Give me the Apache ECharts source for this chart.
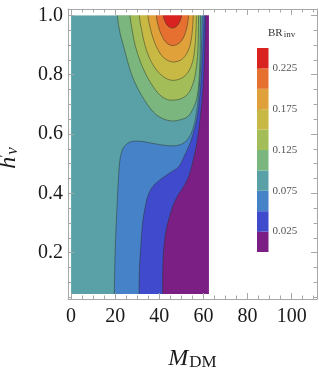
<!DOCTYPE html>
<html><head><meta charset="utf-8">
<script src="https://cdn.jsdelivr.net/npm/echarts@6/dist/echarts.min.js"></script>
<style>html,body{margin:0;padding:0;background:#fff}#c{width:319px;height:374px}</style>
</head><body><div id="c"></div>
<script>
// ---- axis ticks ----
const xTicks = [0, 20, 40, 60, 80, 100];
const xMinor = [0,5,10,15,20,25,30,35,40,45,50,55,60,65,70,75,80,85,90,95,100,105,110];
const yTicks = [0.2, 0.4, 0.6, 0.8, 1.0];
const yMinor = [0.05,0.1,0.15,0.2,0.25,0.3,0.35,0.4,0.45,0.5,0.55,0.6,0.65,0.7,0.75,0.8,0.85,0.9,0.95,1.0];
// ---- colour levels (BR_inv) ----
const levelBounds = [0, 0.025, 0.05, 0.075, 0.1, 0.125, 0.15, 0.175, 0.2, 0.225, 0.25];
const levelColors = ['#7B1F84','#404ACC','#4682C8','#59A1A6','#7AB67E','#A3BD59','#C8B945','#E0A03A','#E67030','#D92321'];
const barTicks = [0.025, 0.075, 0.125, 0.175, 0.225];
// ---- data domain ----
const domainM = [0, 62.5];
const domainH = [0.061, 1.0];
// ---- contour lines [M_DM, h'_nu] ----
const c0025 = [[41.5,0.061],[41.6,0.15],[42.1,0.22],[43.2,0.28],[44.6,0.32],[46.3,0.36],[48.6,0.395],[51.2,0.425],[53.5,0.46],[55.3,0.51],[56.8,0.56],[58.0,0.62],[59.2,0.70],[60.1,0.79],[60.6,0.88],[61.0,1.0]];
const c0050 = [[30.8,0.061],[31.0,0.15],[31.6,0.22],[32.4,0.30],[33.5,0.35],[35.0,0.395],[37.3,0.425],[41.1,0.45],[45.6,0.473],[48.8,0.49],[51.3,0.525],[53.9,0.568],[55.9,0.615],[57.3,0.66],[58.4,0.73],[59.3,0.82],[59.9,0.91],[60.3,1.0]];
const c0075 = [[19.6,0.061],[19.8,0.15],[20.2,0.25],[20.8,0.35],[21.4,0.44],[22.2,0.515],[23.7,0.553],[26.5,0.572],[30.5,0.576],[36.6,0.569],[43.4,0.561],[48.6,0.562],[52.4,0.578],[55.0,0.612],[56.6,0.66],[57.8,0.73],[58.7,0.82],[59.2,0.91],[59.5,1.0]];
const c0100 = [[21.0,1.0],[22.2,0.94],[23.7,0.899],[25.8,0.84],[28.2,0.786],[32.0,0.730],[37.3,0.674],[41.5,0.652],[45.6,0.644],[49.5,0.648],[53.1,0.660],[55.6,0.69],[57.0,0.72],[57.9,0.77],[58.4,0.84],[58.6,0.92],[58.7,1.0]];
const c0125 = [[26.7,1.0],[27.7,0.95],[29.0,0.9],[31.6,0.84],[35.0,0.786],[39.4,0.738],[43.0,0.718],[45.6,0.714],[49.5,0.718],[52.7,0.733],[54.8,0.76],[56.3,0.80],[57.3,0.86],[57.7,0.93],[57.8,1.0]];
const c0150 = [[30.9,1.0],[32.0,0.95],[33.5,0.899],[35.6,0.855],[38.5,0.818],[42.0,0.792],[45.6,0.781],[49.5,0.786],[52.4,0.802],[54.5,0.83],[55.8,0.87],[56.5,0.93],[56.8,1.0]];
const c0175 = [[34.8,1.0],[35.8,0.96],[37.3,0.92],[39.3,0.885],[42.0,0.857],[45.7,0.843],[49.4,0.848],[52.0,0.866],[53.8,0.895],[54.8,0.935],[55.2,0.97],[55.4,1.0]];
const c0200 = [[38.6,1.0],[39.6,0.962],[41.2,0.93],[43.3,0.907],[45.8,0.898],[48.4,0.903],[50.6,0.92],[52.2,0.95],[53.0,0.98],[53.3,1.0]];
const c0225 = [[41.8,1.0],[42.8,0.976],[44.2,0.962],[46.0,0.957],[47.7,0.962],[49.1,0.976],[50.1,1.0]];

// regions: 'low' = area to the right of the contour, 'cap' = area above it
const regions = [
  {pts: null, kind: 'base', level: 3},
  {pts: c0075, kind: 'low', level: 2},
  {pts: c0050, kind: 'low', level: 1},
  {pts: c0025, kind: 'low', level: 0},
  {pts: c0100, kind: 'cap', level: 4},
  {pts: c0125, kind: 'cap', level: 5},
  {pts: c0150, kind: 'cap', level: 6},
  {pts: c0175, kind: 'cap', level: 7},
  {pts: c0200, kind: 'cap', level: 8},
  {pts: c0225, kind: 'cap', level: 9}
];

const X_MIN = -1.4, X_MAX = 111.5, Y_MIN = 0.0439, Y_MAX = 1.0212;
const FRAME = '#a8a8a8';
const SERIF = 'Liberation Serif';
const TOP_OUT = 1.08, BOT_OUT = 0.0, RIGHT_OUT = 64.5;

function regionItem(params, api) {
  const r = regions[params.dataIndex];
  const col = levelColors[r.level];
  if (r.kind === 'base') {
    const p0 = api.coord([domainM[0], domainH[1]]);
    const p1 = api.coord([domainM[1], domainH[0]]);
    return {type: 'rect', shape: {x: p0[0], y: p0[1], width: p1[0]-p0[0], height: p1[1]-p0[1]}, style: {fill: col}};
  }
  let pts = r.pts.slice();
  if (r.kind === 'low') {
    pts = [[pts[0][0], BOT_OUT]].concat(pts, [[pts[pts.length-1][0], TOP_OUT], [RIGHT_OUT, TOP_OUT], [RIGHT_OUT, BOT_OUT]]);
  } else {
    pts = pts.concat([[pts[pts.length-1][0], TOP_OUT], [pts[0][0], TOP_OUT]]);
  }
  return {
    type: 'polygon',
    shape: {points: pts.map(p => api.coord(p)), smooth: 0.35},
    style: {fill: col, stroke: 'rgba(45,50,40,0.55)', lineWidth: 0.9}
  };
}

// white masks outside the data domain (inside the frame padding)
const masks = [
  [X_MIN - 2, domainH[1], 80, 1.3],
  [domainM[1], -0.2, 80, 1.3],
  [X_MIN - 2, -0.2, 80, domainH[0]]
];
function maskItem(params, api) {
  const m = masks[params.dataIndex];
  const p0 = api.coord([m[0], m[3]]);
  const p1 = api.coord([m[2], m[1]]);
  return {type: 'rect', shape: {x: p0[0], y: p0[1], width: p1[0]-p0[0], height: p1[1]-p0[1]}, style: {fill: '#ffffff'}};
}
function barItem(params, api) {
  const i = params.dataIndex;
  const p0 = api.coord([0, levelBounds[i+1]]);
  const p1 = api.coord([1, levelBounds[i]]);
  return {type: 'rect', shape: {x: p0[0], y: p0[1], width: p1[0]-p0[0], height: p1[1]-p0[1]}, style: {fill: levelColors[i]}};
}

function xAx(pos, ticks, len, line, labels) {
  return {
    gridIndex: 0, type: 'value', position: pos, min: X_MIN, max: X_MAX, z: 10,
    axisLine: {show: line, onZero: false, lineStyle: {color: FRAME, width: 1}},
    axisTick: {show: true, inside: true, length: len, customValues: ticks, lineStyle: {color: FRAME, width: 1}},
    splitLine: {show: false},
    axisLabel: labels ? {customValues: xTicks, fontFamily: SERIF, fontSize: 20, color: '#1a1a1a', margin: 8} : {show: false}
  };
}
function yAx(pos, ticks, len, line, labels) {
  return {
    gridIndex: 0, type: 'value', position: pos, min: Y_MIN, max: Y_MAX, z: 10,
    axisLine: {show: line, onZero: false, lineStyle: {color: FRAME, width: 1}},
    axisTick: {show: true, inside: true, length: len, customValues: ticks, lineStyle: {color: FRAME, width: 1}},
    splitLine: {show: false},
    axisLabel: labels ? {customValues: yTicks, formatter: v => v.toFixed(1), fontFamily: SERIF, fontSize: 20, color: '#1a1a1a', margin: 5} : {show: false}
  };
}

const xAxes = [xAx('bottom', xTicks, 6, true, true), xAx('bottom', xMinor, 3.5, false, false), xAx('top', xTicks, 6, true, false), xAx('top', xMinor, 3.5, false, false)];
xAxes[0].name = '{m|M}{s|DM}';
xAxes[0].nameLocation = 'middle';
xAxes[0].nameGap = 48;
xAxes[0].nameTextStyle = {rich: {
  m: {fontFamily: SERIF, fontStyle: 'italic', fontSize: 24, color: '#1a1a1a', verticalAlign: 'top'},
  s: {fontFamily: SERIF, fontSize: 17, color: '#1a1a1a', verticalAlign: 'bottom', padding: [0,0,0,1]}
}};
xAxes.push({gridIndex: 1, type: 'value', min: 0, max: 1, show: false});

const yAxes = [yAx('left', yTicks, 6, true, true), yAx('left', yMinor, 3.5, false, false), yAx('right', yTicks, 6, true, false), yAx('right', yMinor, 3.5, false, false)];
yAxes[0].name = '{h|h}{p|\u2032}{s|\u03bd}';
yAxes[0].nameLocation = 'middle';
yAxes[0].nameRotate = 90;
yAxes[0].nameGap = 47;
yAxes[0].nameTextStyle = {rich: {
  h: {fontFamily: SERIF, fontStyle: 'italic', fontSize: 24, color: '#1a1a1a'},
  p: {fontFamily: SERIF, fontSize: 18, color: '#1a1a1a', verticalAlign: 'top', width: 2},
  s: {fontFamily: SERIF, fontStyle: 'italic', fontSize: 17, color: '#1a1a1a', verticalAlign: 'bottom', padding: [0,8,0,0]}
}};
yAxes.push({
  gridIndex: 1, type: 'value', position: 'right', min: 0, max: 0.25,
  axisLine: {show: false},
  axisTick: {show: true, length: 4, customValues: barTicks, lineStyle: {color: '#999'}},
  splitLine: {show: false},
  axisLabel: {customValues: barTicks, formatter: v => v.toFixed(3), fontFamily: SERIF, fontSize: 11, color: '#555', margin: 4}
});

const chart = echarts.init(document.getElementById('c'), null, {renderer: 'canvas'});
chart.setOption({
  animation: false,
  backgroundColor: '#fff',
  title: {
    text: '{a|BR}{b|inv}', left: 263, top: 23,
    textStyle: {fontWeight: 'normal', rich: {
      a: {fontFamily: SERIF, fontSize: 11, fontWeight: 'normal', color: '#333', verticalAlign: 'top'},
      b: {fontFamily: SERIF, fontSize: 9, fontWeight: 'normal', color: '#333', verticalAlign: 'bottom', padding: [0,0,0,1]}
    }}
  },
  grid: [
    {left: 68, right: 2, top: 9, bottom: 75, outerBoundsMode: 'none', containLabel: false},
    {left: 257, top: 48, width: 11.5, height: 204, outerBoundsMode: 'none', containLabel: false}
  ],
  xAxis: xAxes,
  yAxis: yAxes,
  series: [
    {type: 'custom', xAxisIndex: 0, yAxisIndex: 0, clip: false, z: 2, data: regions.map((r, i) => i), renderItem: regionItem, silent: true},
    {type: 'custom', xAxisIndex: 0, yAxisIndex: 0, clip: false, z: 3, data: masks.map((m, i) => i), renderItem: maskItem, silent: true},
    {type: 'custom', xAxisIndex: 4, yAxisIndex: 4, clip: false, data: levelColors.map((c, i) => i), renderItem: barItem, silent: true}
  ]
});
</script></body></html>
